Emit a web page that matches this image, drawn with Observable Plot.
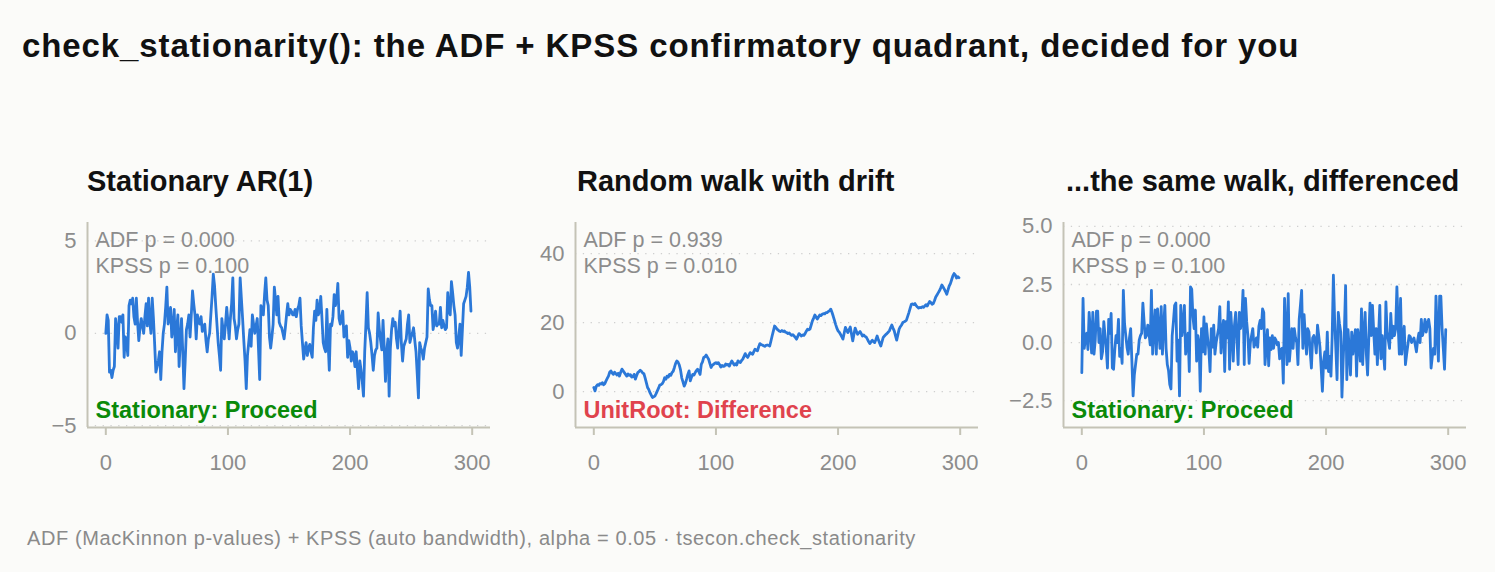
<!DOCTYPE html>
<html>
<head>
<meta charset="utf-8">
<script src="https://cdn.jsdelivr.net/npm/d3@7"></script>
<script src="https://cdn.jsdelivr.net/npm/@observablehq/plot@0.6"></script>
<style>
  html, body { margin: 0; padding: 0; background: #fbfbf9; }
  #root { position: relative; width: 1495px; height: 572px; overflow: hidden; background: #fbfbf9;
          font-family: "Liberation Sans", Arial, Helvetica, sans-serif; }
  .abs { position: absolute; white-space: nowrap; }
  #title { left: 22px; top: 29px; font-size: 33px; line-height: 33px; font-weight: bold; color: #111;
           letter-spacing: 0.9px; }
  .ptitle { top: 167px; font-size: 29px; line-height: 29px; font-weight: bold; color: #111; }
  #caption { left: 27px; top: 528px; font-size: 20px; line-height: 20px; color: #8a8a8a; letter-spacing: 0.6px; }
  .panel svg { display: block; }
</style>
</head>
<body>
<div id="root">
  <div id="title" class="abs"></div>
  <div id="caption" class="abs"></div>
</div>
<script>
// ---------------- data ----------------
const mainTitle = "check_stationarity(): the ADF + KPSS confirmatory quadrant, decided for you";
const captionText = "ADF (MacKinnon p-values) + KPSS (auto bandwidth), alpha = 0.05 \u00b7 tsecon.check_stationarity";

const panelTitles = ["Stationary AR(1)", "Random walk with drift", "...the same walk, differenced"];
const adfP = [0.000, 0.939, 0.000];
const kpssP = [0.100, 0.010, 0.100];
const verdicts = ["Stationary: Proceed", "UnitRoot: Difference", "Stationary: Proceed"];

const xTicks = [0, 100, 200, 300];
const ar1Ticks = [-5, 0, 5];
const walkTicks = [0, 20, 40];
const diffTicks = [-2.5, 0, 2.5, 5];

const ar1 = [
  0.0, 1.0, 0.7, -2.1, -2.0, -2.4, -2.0, -1.8, 0.8, 0.2, -0.8, 0.9, 0.9, 0.6, 1.0, -1.3, -0.2, -0.5, -1.2, 1.5,
  1.8, 1.6, 1.9, 0.9, 0.5, 1.9, 0.6, -0.4, 0.3, 0.8, 0.4, 0.0, 0.9, 1.6, 0.4, 1.9, 0.6, 0.0, 1.9, 0.8,
  -0.6, -2.1, -1.8, -1.5, -1.0, -2.5, -1.0, 0.0, 0.5, 1.4, 2.5, 0.5, 0.9, 1.4, -0.2, 0.3, 1.3, -1.0, 0.2, 1.0,
  -1.8, -0.4, 0.8, -1.0, -3.0, -1.5, 0.2, 0.5, 1.0, -0.2, 1.0, 2.3, 1.6, 1.0, -0.3, 1.0, 0.6, 0.5, 0.9, 0.1,
  0.3, 0.5, -0.4, -1.0, -0.3, 0.0, 1.0, 2.0, 3.2, 2.6, 1.5, 0.5, -0.5, -1.2, -2.0, 0.8, 0.2, -0.3, 0.5, 1.4,
  0.6, -0.3, 0.8, 1.6, 3.0, 0.8, 0.4, -0.3, 0.2, 0.5, 3.0, 1.9, 0.8, -0.4, -1.5, -3.0, -1.2, -0.5, 0.2, -0.7,
  1.0, 0.5, 0.0, 0.4, 0.8, -0.8, -2.5, 1.5, 1.2, 1.0, 2.1, 3.0, 1.8, 1.5, -0.2, -0.8, -0.2, 0.5, 2.5, 1.8,
  1.0, 2.0, 0.6, 0.4, 0.3, 0.0, -0.3, 0.3, 1.0, 1.6, 1.0, 1.3, 1.2, 1.0, 1.0, 1.3, 0.9, 1.3, 1.5, 1.9,
  0.4, -0.5, -1.4, -0.9, -0.5, -1.2, -0.8, -0.6, -1.0, -1.3, 0.3, 1.2, 0.7, 1.8, 1.0, 1.2, 2.0, 0.8, -0.5, -0.8,
  -1.0, 1.3, -0.5, -2.0, 0.5, 0.4, 0.9, 2.1, 1.5, 1.8, 2.7, 0.8, 0.5, 0.9, 1.2, -0.2, 0.2, 0.4, -1.3, -0.4,
  -0.8, -1.5, -1.0, -1.2, -1.8, -1.0, -2.0, -3.0, -1.5, -2.0, -2.6, -3.4, -1.0, 0.5, 2.2, 0.3, 0.0, -0.5, -1.2, -2.0,
  -1.2, -0.9, -0.8, 1.1, 0.2, -0.4, -0.9, 0.7, -0.8, -2.6, -1.0, -0.3, -3.4, -0.8, 0.2, 0.8, 0.4, 0.6, -0.3, -0.8,
  0.3, 1.2, -0.5, -1.5, -0.7, -0.5, -0.3, 0.5, 1.0, -0.5, -0.2, 0.0, 0.3, -0.4, -1.0, -2.2, -3.5, -0.5, -0.8, -1.0,
  -1.4, -0.8, -0.5, -0.2, 2.4, 1.8, 1.5, 1.5, 0.2, 0.6, 1.2, 0.4, 0.5, 0.5, 1.4, 0.3, 0.7, 0.4, 0.2, 0.3,
  2.2, 1.2, 1.0, 2.8, 2.2, 1.5, 1.0, -0.5, -0.8, -0.2, 0.5, -1.2, 0.2, 1.6, 1.8, 2.0, 2.5, 3.3, 2.5, 1.2
];

const walk = [
  1.2, 0.2, 1.5, 2.0, 1.8, 2.3, 2.2, 2.6, 2.0, 2.3, 3.1, 3.8, 4.5, 5.6, 6.0, 5.4, 5.0, 5.6, 5.2, 4.8,
  5.3, 4.5, 5.6, 6.5, 6.0, 5.5, 5.0, 4.5, 5.1, 4.7, 4.9, 4.2, 4.3, 5.0, 3.6, 4.6, 5.5, 5.8, 6.2, 5.9,
  5.4, 5.2, 4.0, 2.6, 1.2, 0.6, -0.3, -1.0, -1.7, -1.5, -1.3, -0.6, 0.2, 1.0, 1.9, 2.0, 2.3, 2.9, 4.0, 3.6,
  4.5, 4.2, 5.0, 4.7, 5.5, 5.9, 7.0, 8.2, 8.9, 8.5, 7.7, 6.3, 4.0, 2.8, 1.6, 2.4, 3.6, 5.0, 6.0, 3.1,
  4.2, 5.0, 4.8, 5.5, 6.1, 6.5, 5.8, 5.0, 7.9, 8.6, 9.9, 10.1, 10.6, 10.0, 9.4, 8.2, 7.0, 7.6, 7.9, 8.2,
  8.4, 8.1, 8.4, 7.8, 7.1, 7.6, 7.3, 7.4, 8.0, 7.7, 7.9, 7.4, 8.2, 8.9, 8.3, 7.7, 8.1, 7.7, 8.9, 8.6,
  8.4, 9.0, 9.4, 10.2, 11.0, 10.3, 9.9, 10.6, 11.3, 11.0, 10.8, 11.6, 12.3, 12.0, 11.8, 13.0, 13.9, 13.6, 13.5, 13.3,
  13.1, 13.4, 13.5, 13.4, 13.2, 14.6, 16.1, 17.5, 19.0, 18.6, 18.1, 17.8, 17.5, 17.4, 17.7, 17.4, 17.6, 17.2, 17.1, 16.8,
  17.0, 16.6, 16.3, 16.5, 16.1, 15.7, 15.2, 16.0, 16.8, 16.5, 16.1, 16.4, 16.3, 16.8, 17.5, 18.1, 17.9, 18.1, 19.3, 20.5,
  21.3, 22.2, 21.6, 21.0, 21.6, 22.2, 22.0, 22.4, 22.6, 22.5, 22.9, 22.9, 23.2, 23.4, 23.9, 23.0, 21.9, 20.7, 19.5, 18.4,
  17.6, 17.2, 16.6, 15.9, 15.2, 16.9, 18.6, 17.8, 17.1, 17.9, 18.7, 16.7, 14.7, 16.6, 18.4, 17.5, 16.6, 17.0, 17.4, 16.8,
  16.1, 16.4, 16.0, 15.8, 15.2, 14.5, 13.9, 14.4, 14.9, 14.5, 14.2, 15.1, 16.1, 15.0, 14.1, 13.2, 14.5, 15.7, 16.1, 16.5,
  16.8, 17.2, 17.6, 18.5, 19.3, 18.4, 17.6, 16.2, 14.9, 16.5, 18.1, 18.8, 19.3, 20.0, 20.2, 20.4, 20.7, 21.8, 22.9, 24.1,
  25.3, 25.4, 25.2, 25.5, 24.9, 24.5, 24.2, 24.4, 24.3, 24.6, 24.4, 24.8, 25.2, 24.8, 25.5, 26.1, 25.8, 25.3, 25.5, 26.4,
  27.4, 28.0, 28.6, 29.2, 30.0, 30.9, 30.3, 29.7, 29.0, 28.2, 29.4, 30.6, 31.3, 32.4, 33.5, 34.2, 33.8, 32.9, 33.3, 33.0
];

const diffed = [
  -1.3, 1.9, -0.25, 0.2, 0.4, -0.3, 1.3, 0.5, -0.45, 1.3, -0.5, 0.1, 1.35, 1.35, 0, 0.6, -0.7, -0.4, 0.9, 0.3,
  -0.25, -1.1, 1.0, 0.4, 1.25, -1.1, -1.15, -0.3, 0.3, 0, 1.0, -0.6, -0.25, -0.9, 2.25, 0.8, 0.3, -0.2, -0.5, 0.2,
  0.6, -0.8, -2.3, -1.4, -0.95, -0.5, -0.5, 0.1, 0.3, 0.4, 1.7, 0.9, 0.2, 0.3, 0.75, 0.4, -0.1, 2.25, -0.5, 0.5,
  1.4, -0.5, 1.45, 0.6, -0.25, 1.55, -0.5, 0.7, 1.6, -0.25, -0.95, -1.2, -1.8, -2.0, 0.3, 0.9, 1.6, 1.7, -0.8, 0.1,
  -2.3, 1.6, 0.3, 0.8, 1.6, -0.5, 0, 0.4, -1.25, 2.4, 2.3, 1.1, 0.6, 1.4, -0.8, 0.3, 0, -2.1, 0.6, -0.4,
  1.1, -0.5, 0.8, 0.2, -0.3, -1.25, 0.6, -0.2, 0.75, -0.5, 0, 0.3, 0.6, 1.55, -0.45, 0.5, 0.95, -1.25, 0.9, 0.2,
  1.75, -1.15, 1.3, 0.4, -0.8, 0.75, 1.3, 0.2, -0.95, 1.3, 0.6, 1.0, 2.25, -0.95, 1.9, 0.9, 0.3, -0.9, 0, 0.3,
  0.6, -0.2, 0, 0.2, -0.2, 0.7, 0.95, 0.6, 1.45, 1.3, -0.95, -0.2, 0.55, -1.0, 0.2, -0.3, 0.3, -0.25, 0.2, 0.1,
  -0.1, 0, -0.7, -0.3, -0.25, -1.75, 1.9, 0.5, -0.95, 2.1, -0.8, -0.1, 0.6, -0.25, 0.6, 0.2, 0, -0.95, 1.0, 1.6,
  2.25, -0.25, 1.2, 0.3, -0.5, 0.6, 0.45, -0.4, -1.1, 0.2, 0.3, 0.1, -0.45, 0.75, 0.3, -0.2, -1.1, -2.1, -0.8, -0.4,
  -1.1, 0.45, -1.25, -0.6, -1.45, 0.25, 2.9, 1.0, -0.25, -1.6, 1.3, 0.8, 0.45, -2.35, -0.8, 0.5, 2.45, -1.6, 0.55, -0.3,
  -1.4, 0.45, -0.5, 0.1, 0.55, -1.45, 0.55, 0.1, -0.8, 1.45, -0.95, 0.4, 1.3, -0.5, -1.4, 0.2, 1.7, 0.3, 1.6, 0.5,
  -0.5, 0.6, -0.95, 0.3, 1.6, -0.7, 0.3, -0.4, -1.15, 1.75, 0.45, 0.1, -0.25, 1.25, 0.2, 0.7, 0.3, 0.6, 2.4, 0.8,
  -0.5, 1.9, -0.5, 0.2, 0.7, -0.95, -0.5, -0.1, 0.3, 0.25, 0, 0.1, 0.2, -0.1, -0.4, 0.1, 0.4, 0, 1.0, 0.3,
  0.55, 1.0, 0.45, 0.8, 1.0, 0.6, -1.1, -0.6, -0.25, -0.5, 2.0, 0.5, -0.8, 2.0, 2.0, 0.6, -0.25, -1.15, 0.55
];

// ---------------- drawing ----------------
const FONT = '"Liberation Sans", Arial, Helvetica, sans-serif';
const axisColor = "#c4c3b6";
const tickText = "#8c8c8c";
const lineColor = "#2b78d8";
const okColor = "#0a8a0a";
const badColor = "#e0434d";

document.getElementById("title").textContent = mainTitle;
document.getElementById("caption").textContent = captionText;

const root = document.getElementById("root");
const panelLeft = [20, 508, 996];
const titleLeft = [87, 577, 1066];
const xDomain = [-15, 315];

function makePanel(k, values, yDomain, yTicks, fmt, verdictColor) {
  const wrap = document.createElement("div");
  wrap.className = "abs panel";
  wrap.style.left = panelLeft[k] + "px";
  wrap.style.top = "212px";
  const svg = Plot.plot({
    width: 480,
    height: 265,
    marginLeft: 67,
    marginRight: 10,
    marginTop: 10,
    marginBottom: 50,
    style: {background: "transparent", fontFamily: FONT, overflow: "visible"},
    x: {domain: xDomain},
    y: {domain: yDomain},
    marks: [
      Plot.ruleY(yTicks, {stroke: "#cfcfcf", strokeWidth: 1.3, strokeDasharray: "1.3,6.5"}),
      Plot.axisX(xTicks, {tickSize: 8, tickPadding: 19, stroke: axisColor, strokeWidth: 2,
                          fill: tickText, fontSize: 22, label: null}),
      Plot.axisY(yTicks, {tickSize: 0, tickPadding: 11, fill: tickText, fontSize: 22,
                          tickFormat: fmt, label: null}),
      Plot.ruleX([xDomain[0]], {stroke: axisColor, strokeWidth: 2}),
      Plot.ruleY([yDomain[0]], {stroke: axisColor, strokeWidth: 2}),
      Plot.line(values, {x: (d, i) => i, y: d => d, stroke: lineColor, strokeWidth: 2.8}),
      Plot.text([`ADF p = ${adfP[k].toFixed(3)}\nKPSS p = ${kpssP[k].toFixed(3)}`], {
        frameAnchor: "top-left", textAnchor: "start", lineAnchor: "top",
        dx: 8, dy: 6, fontSize: 21.5, lineHeight: 1.2, fill: tickText
      }),
      Plot.text([verdicts[k]], {
        frameAnchor: "bottom-left", textAnchor: "start", lineAnchor: "bottom",
        dx: 8, dy: -10, fontSize: 23.5, fontWeight: "bold", fill: verdictColor
      })
    ]
  });
  wrap.appendChild(svg);
  root.appendChild(wrap);

  const t = document.createElement("div");
  t.className = "abs ptitle";
  t.style.left = titleLeft[k] + "px";
  t.textContent = panelTitles[k];
  root.appendChild(t);
}

makePanel(0, ar1, [-5.1, 6.0], ar1Ticks, undefined, okColor);
makePanel(1, walk, [-10.4, 49], walkTicks, undefined, badColor);
makePanel(2, diffed, [-3.66, 5.17], diffTicks, d3.format(".1f"), okColor);
</script>
</body>
</html>
